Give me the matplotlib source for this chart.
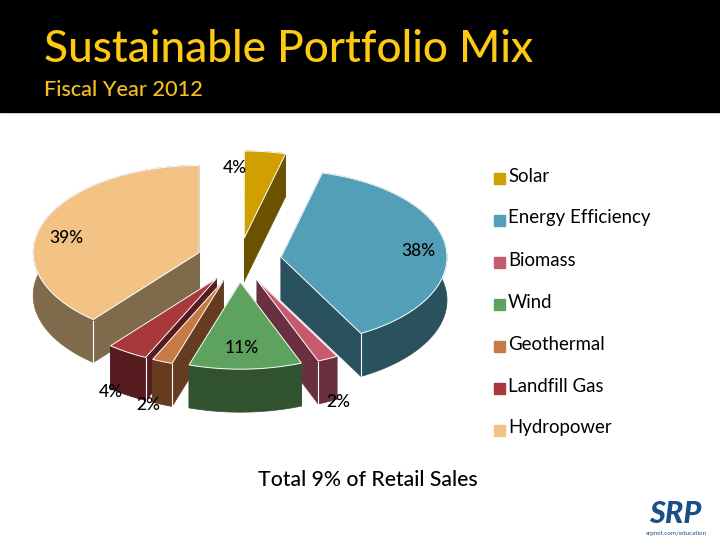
import numpy as np
import matplotlib
matplotlib.use('Agg')
import matplotlib.pyplot as plt
from matplotlib.patches import Polygon, Rectangle

title = 'Sustainable Portfolio Mix'
subtitle = 'Fiscal Year 2012'
footer = 'Total 9% of Retail Sales'
categories = ['Solar', 'Energy Efficiency', 'Biomass', 'Wind', 'Geothermal', 'Landfill Gas', 'Hydropower']
shares = [4, 38, 2, 11, 2, 4, 39]
top_colors = ['#d09f00', '#549fb8', '#c85a6e', '#5da25f', '#c67a45', '#a8383c', '#f2c384']
side_colors = ['#6b5200', '#2a515e', '#6b3040', '#30522f', '#653c20', '#561c20', '#7f6a4c']

# pie geometry in pixels, y goes down
cx, cy = 239, 260
rx, ry = 166, 87
explode = 0.255
depth = 43
# back to front
draw_order = [6, 0, 1, 2, 5, 4, 3]
label_xy = [(235, 168), (418, 251), (338, 402), (242, 348), (148, 405), (111, 392), (66, 238)]

plt.rcParams['font.family'] = ['Lato', 'DejaVu Sans']
fig = plt.figure(figsize=(7.2, 5.4), dpi=100)
ax = fig.add_axes([0, 0, 1, 1])
ax.set_xlim(0, 720)
ax.set_ylim(540, 0)
ax.axis('off')

ax.add_patch(Rectangle((0, 0), 720, 112, color='black', zorder=1))
ax.text(44, 50, title, color='#fdc913', fontsize=31.8, fontweight='medium', va='center', zorder=5)
ax.text(44, 90, subtitle, color='#f5c020', fontsize=15.7, fontweight='medium', va='center', zorder=5)

edges = np.cumsum([0] + shares) / sum(shares) * 2 * np.pi


def draw_slice(i, z):
    t0, t1 = edges[i], edges[i + 1]
    mid = (t0 + t1) / 2
    ax0 = cx + explode * rx * np.sin(mid)
    ay0 = cy - explode * ry * np.cos(mid)
    t = np.linspace(t0, t1, 80)
    rim_x = ax0 + rx * np.sin(t)
    rim_y = ay0 - ry * np.cos(t)
    xs = np.r_[ax0, rim_x]
    ys = np.r_[ay0, rim_y]
    # radial faces
    for px, py in ((rim_x[0], rim_y[0]), (rim_x[-1], rim_y[-1])):
        quad = [(ax0, ay0), (px, py), (px, py + depth), (ax0, ay0 + depth)]
        ax.add_patch(Polygon(quad, closed=True, fc=side_colors[i], ec=side_colors[i], lw=0.5, zorder=z))
    # outer wall as one band
    band = np.r_[np.c_[rim_x, rim_y], np.c_[rim_x, rim_y + depth][::-1]]
    ax.add_patch(Polygon(band, closed=True, fc=side_colors[i], ec=side_colors[i], lw=0.5, zorder=z))
    ax.add_patch(Polygon(np.c_[xs, ys], closed=True, fc=top_colors[i], ec='white', lw=0.7, zorder=z + 0.1))
    # white line on the front corner
    for tc in (t0, t1):
        other = t1 if tc == t0 else t0
        if np.cos(tc) < 0 and not (t0 < np.pi < t1) and abs(tc - np.pi) < abs(other - np.pi):
            px = ax0 + rx * np.sin(tc)
            py = ay0 - ry * np.cos(tc)
            ax.plot([px, px], [py + 1, py + depth], color='white', lw=0.8, zorder=z + 0.2)


for n, i in enumerate(draw_order):
    draw_slice(i, 2 + n)

for i, v in enumerate(shares):
    ax.text(label_xy[i][0], label_xy[i][1], f'{v}%', fontsize=12.5, fontweight='medium', color='black',
            ha='center', va='center', zorder=20)

# legend
for i, name in enumerate(categories):
    y = 176 + 42 * i
    ax.add_patch(Rectangle((494, y - 3), 11, 11, color=top_colors[i], zorder=3))
    ax.text(508, y, name, fontsize=13.4, color='black', va='center', zorder=3)

ax.text(367.5, 480, footer, fontsize=15.3, fontweight='medium', color='black', ha='center', va='center', zorder=3)

# logo
ax.text(675, 514, 'SRP', fontsize=22, color='#1a4f8a', fontweight='black', style='italic',
        ha='center', va='center', zorder=3)
ax.text(676, 534, 'srpnet.com/education', fontsize=4.5, color='#1a4f8a', ha='center', va='center', zorder=3)

fig.savefig('out.png', dpi=100)
